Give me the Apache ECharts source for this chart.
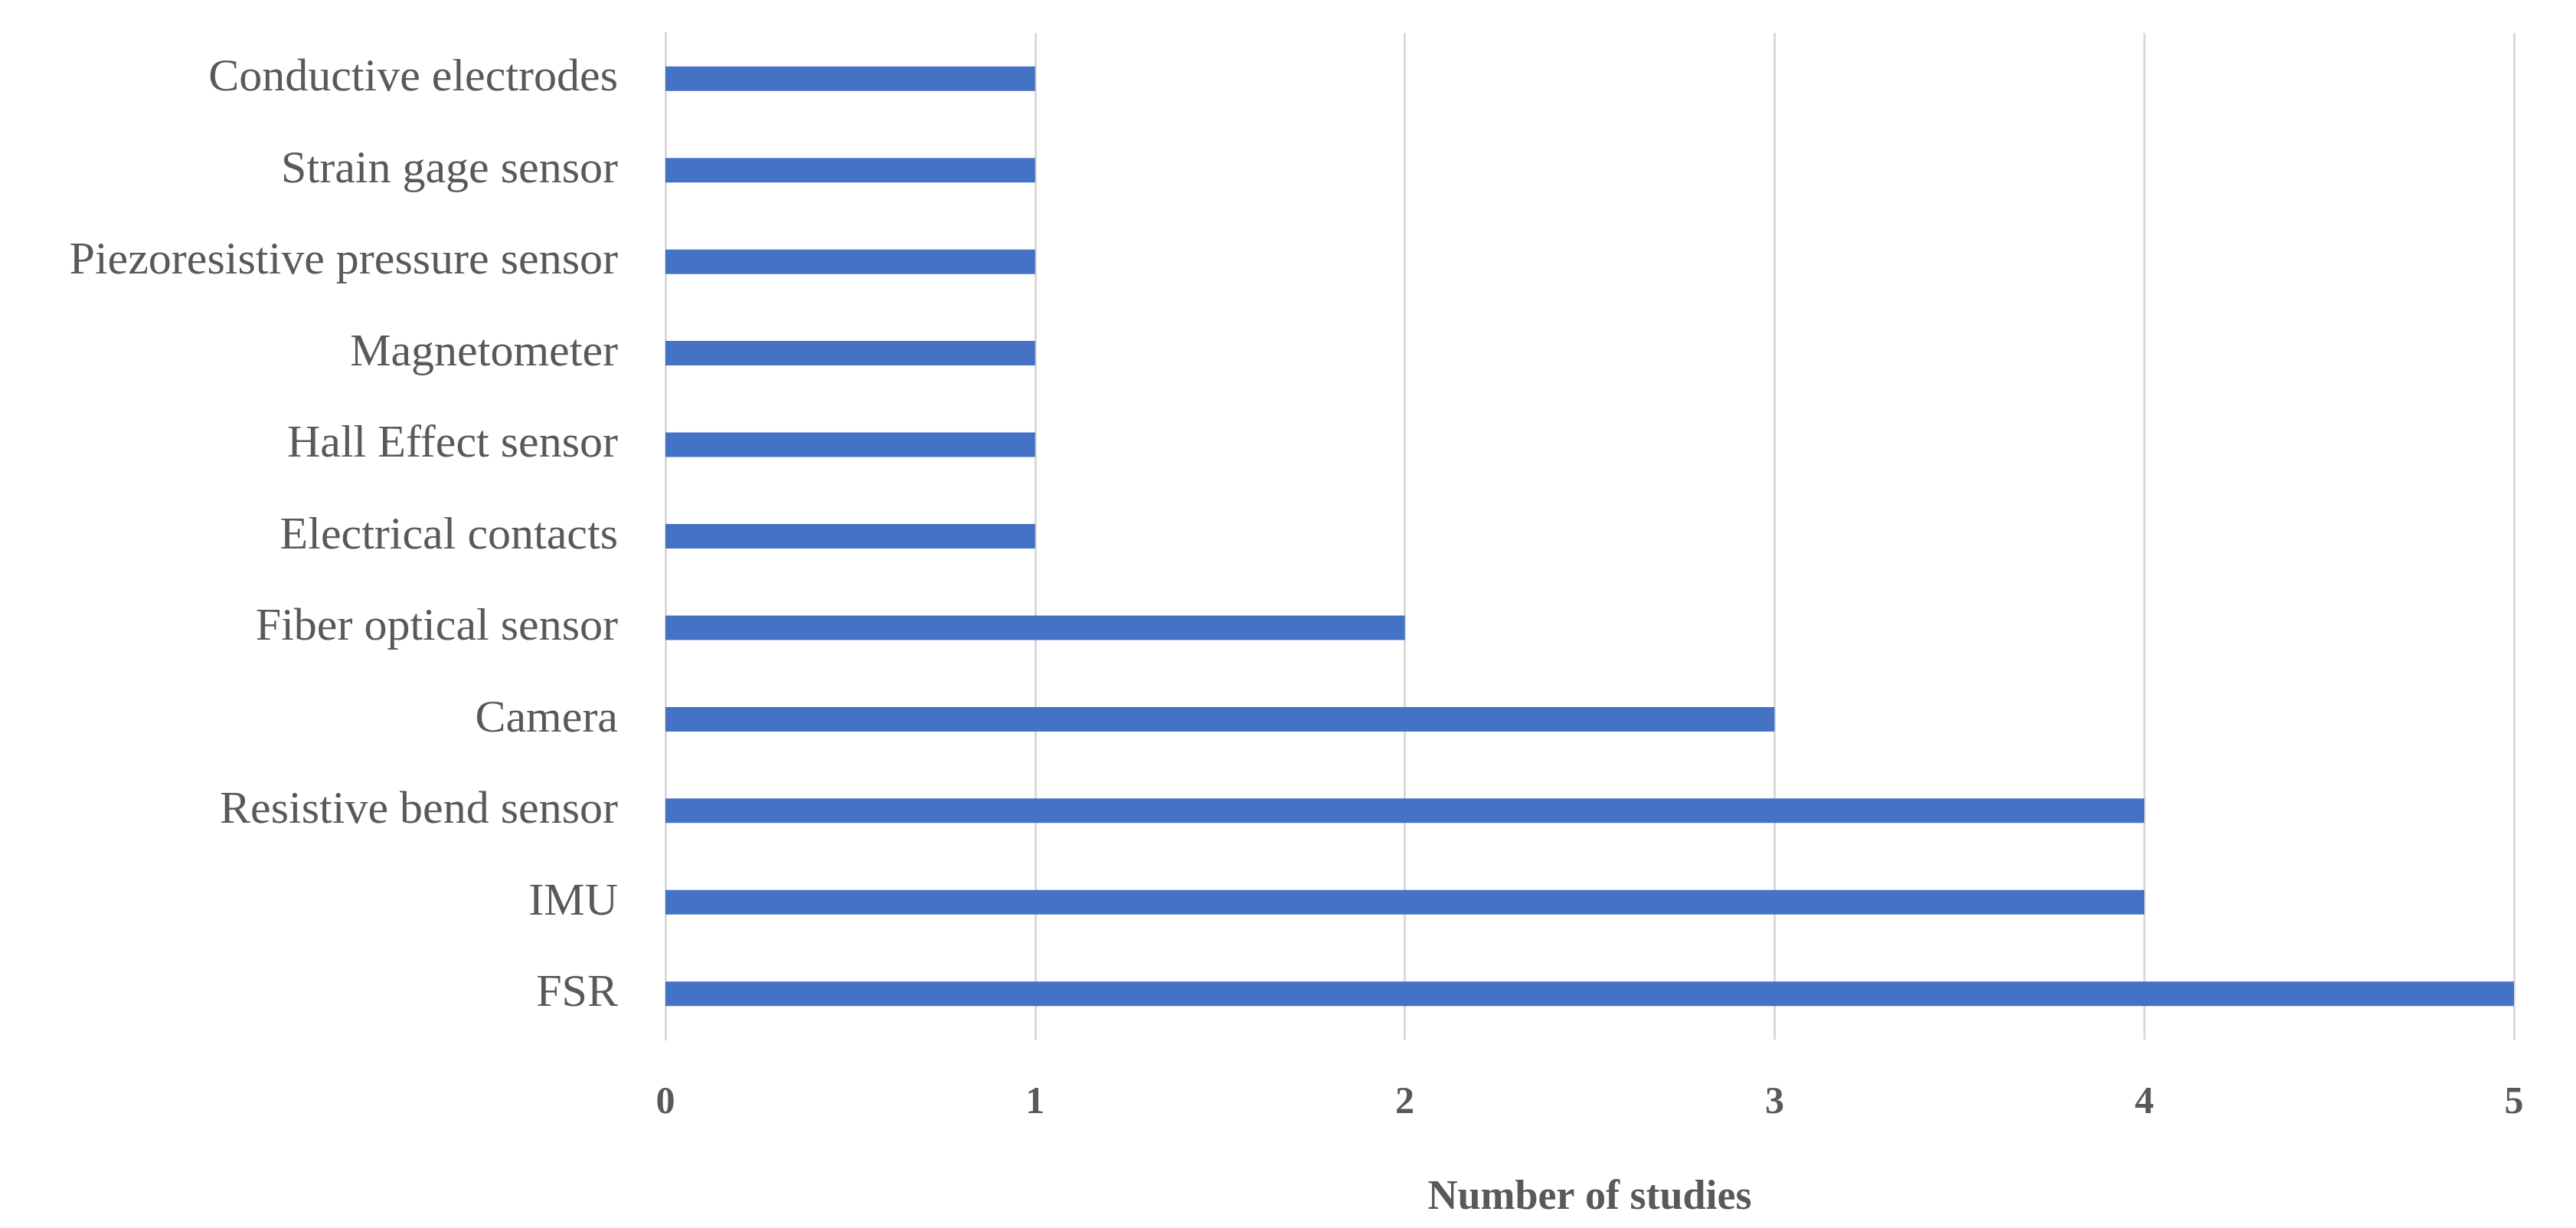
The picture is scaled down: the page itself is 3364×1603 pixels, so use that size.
<!DOCTYPE html>
<html><head><meta charset="utf-8">
<script src="https://cdn.jsdelivr.net/npm/echarts@6/dist/echarts.min.js"></script>
<style>html,body{margin:0;background:#fff}#c{width:3364px;height:1603px}</style>
</head><body><div id="c"></div>
<script>
const categories = ["FSR","IMU","Resistive bend sensor","Camera","Fiber optical sensor","Electrical contacts","Hall Effect sensor","Magnetometer","Piezoresistive pressure sensor","Strain gage sensor","Conductive electrodes"];
const values = [5,4,4,3,2,1,1,1,1,1,1];
const xTicks = [0,1,2,3,4,5];
const chart = echarts.init(document.getElementById('c'));
chart.setOption({
  animation:false,
  grid:{left:869,right:81,top:43,bottom:246,containLabel:false},
  xAxis:{type:'value',min:0,max:5,interval:1,
    name:'Number of studies',nameLocation:'middle',nameGap:180,
    nameTextStyle:{fontFamily:'Liberation Serif',fontWeight:'bold',fontSize:54,color:'#595959'},
    axisLine:{show:false},axisTick:{show:false},
    axisLabel:{fontFamily:'Liberation Serif',fontWeight:'bold',fontSize:50,color:'#595959',margin:58},
    splitLine:{lineStyle:{color:'#d9d9d9',width:3}}},
  yAxis:{type:'category',data:categories,
    axisLine:{lineStyle:{color:'#d9d9d9',width:3}},axisTick:{show:false},
    axisLabel:{fontFamily:'Liberation Serif',fontSize:60,color:'#595959',margin:62}},
  series:[{type:'bar',data:values,barWidth:32,itemStyle:{color:'#4472C4'}}]
});
</script></body></html>
